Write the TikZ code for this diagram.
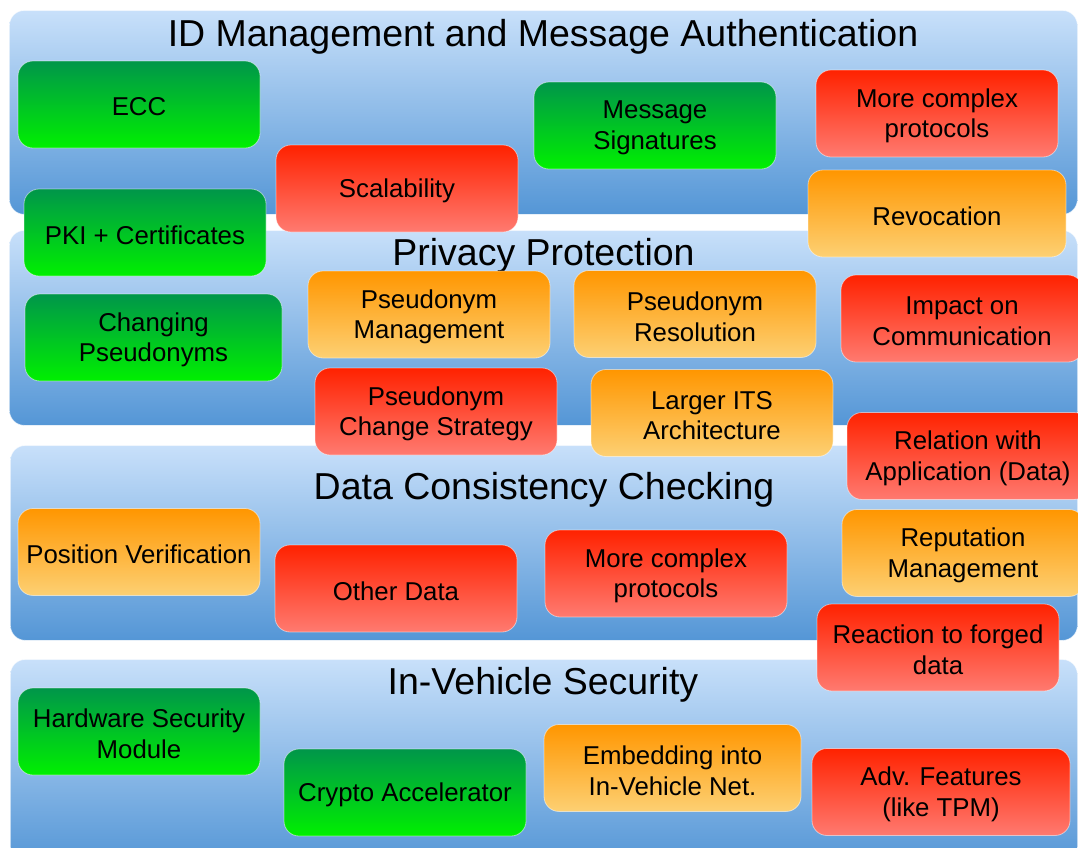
\documentclass[tikz,border=0pt]{standalone}
\usepackage{fontspec}
\setmainfont{Liberation Sans}
\definecolor{bandtop}{RGB}{200,224,250}
\definecolor{bandbot}{RGB}{84,150,214}
\definecolor{gtop}{RGB}{0,150,74}
\definecolor{gbot}{RGB}{0,240,0}
\definecolor{rtop}{RGB}{255,34,0}
\definecolor{rbot}{RGB}{255,122,112}
\definecolor{otop}{RGB}{255,150,0}
\definecolor{obot}{RGB}{253,208,115}
\tikzset{
  band/.style={rectangle, rounded corners=15pt, top color=bandtop, bottom color=bandbot, draw=white, draw opacity=0.6, line width=0.8pt, anchor=north west, inner sep=0pt},
  title/.style={font=\fontsize{37.5}{40}\selectfont, inner sep=0pt},
  lbl/.style={font=\fontsize{25.8}{30.6}\selectfont, align=center, inner sep=0pt, yshift=-2.5pt},
  box/.style={rectangle, rounded corners=15pt, minimum height=87pt, minimum width=242pt, inner sep=0pt, draw=white, draw opacity=0.5, line width=0.8pt},
  gbox/.style={box, top color=gtop, bottom color=gbot},
  rbox/.style={box, top color=rtop, bottom color=rbot},
  obox/.style={box, top color=otop, bottom color=obot},
}
\begin{document}
\begin{tikzpicture}[x=1pt,y=-1pt]
\useasboundingbox (0,0) rectangle (1078,847);
\clip (0,0) rectangle (1078,847);
% bands
\node[band, minimum width=1068pt, minimum height=204pt] (b1) at (9,10) {};
\node[band, minimum width=1068pt, minimum height=195pt] (b2) at (9,230) {};
\node[band, minimum width=1067pt, minimum height=195pt] (b3) at (10,445) {};
\node[band, minimum width=1067pt, minimum height=205pt] (b4) at (10,659) {};
% titles
\node[title] (t1) at (543,37) {ID Management and Message Authentication};
\node[title] (t2) at (543.5,256) {Privacy Protection};
\node[title] (t3) at (544,490) {Data Consistency Checking};
\node[title] (t4) at (543,685) {In-Vehicle Security};
% band 1 boxes
\node[gbox, label={[lbl]center:ECC}] (ecc) at (139,104.5) {};
\node[gbox, label={[lbl]center:PKI + Certificates}] (pki) at (145,232.5) {};
\node[rbox, label={[lbl]center:Scalability}] (scal) at (397,188.5) {};
\node[gbox, label={[lbl]center:{Message\\Signatures}}] (msig) at (655,125.5) {};
\node[rbox, label={[lbl]center:{More complex\\protocols}}] (mcp1) at (937,113.5) {};
\node[obox, minimum width=258pt, label={[lbl]center:Revocation}] (revo) at (937,213.5) {};
% band 2 boxes
\node[gbox, minimum width=257pt, label={[lbl]center:{Changing\\Pseudonyms}}] (chps) at (153.5,337.5) {};
\node[obox, label={[lbl]center:{Pseudonym\\Management}}] (psm) at (429,314.5) {};
\node[obox, label={[lbl]center:{Pseudonym\\Resolution}}] (psr) at (695,314) {};
\node[rbox, label={[lbl]center:{Impact on\\Communication}}] (impc) at (962,318.5) {};
\node[rbox, label={[lbl]center:{Pseudonym\\Change Strategy}}] (pscs) at (436,411.5) {};
\node[obox, label={[lbl]center:{Larger ITS\\Architecture}}] (its) at (712,413) {};
\node[rbox, label={[lbl]center:{Relation with\\Application (Data)}}] (rela) at (968,456) {};
% band 3 boxes
\node[obox, label={[lbl]center:Position Verification}] (posv) at (139,552) {};
\node[rbox, label={[lbl]center:Other Data}] (othd) at (396,588.5) {};
\node[rbox, label={[lbl]center:{More complex\\protocols}}] (mcp2) at (666,573.5) {};
\node[obox, label={[lbl]center:{Reputation\\Management}}] (repm) at (963,553) {};
\node[rbox, label={[lbl]center:{Reaction to forged\\data}}] (reac) at (938,647.5) {};
% band 4 boxes
\node[gbox, label={[lbl]center:{Hardware Security\\Module}}] (hsm) at (139,731.5) {};
\node[gbox, label={[lbl]center:Crypto Accelerator}] (cryp) at (405,792.5) {};
\node[obox, minimum width=257pt, label={[lbl]center:{Embedding into\\In-Vehicle Net.}}] (embd) at (672.5,768) {};
\node[rbox, minimum width=258pt, label={[lbl]center:{Adv. Features\\(like TPM)}}] (advf) at (941,792) {};
\end{tikzpicture}
\end{document}
